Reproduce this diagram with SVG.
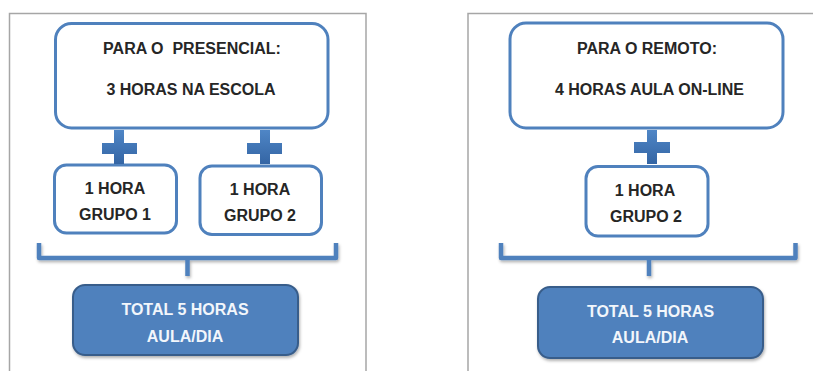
<svg xmlns="http://www.w3.org/2000/svg" width="813" height="371" viewBox="0 0 813 371">
<defs>
<linearGradient id="plusGrad" x1="0" y1="0" x2="0" y2="1">
<stop offset="0" stop-color="#4f86c6"/>
<stop offset="1" stop-color="#3465a4"/>
</linearGradient>
<filter id="shadow" x="-10%" y="-10%" width="120%" height="130%">
<feDropShadow dx="1" dy="2" stdDeviation="1.5" flood-color="#000" flood-opacity="0.3"/>
</filter>
</defs>
<style>
.panel{fill:#fff;stroke:#a6a6a6;stroke-width:1.5}
.box{fill:#fff;stroke:#4f81bd;stroke-width:3}
.total{fill:#4f81bd;stroke:#385d8a;stroke-width:2}
.t{font-family:"Liberation Sans",Arial,sans-serif;font-weight:bold;font-size:16px;fill:#262626;text-anchor:middle;white-space:pre}
.w{fill:#f2f6fb}
.brace{fill:none;stroke:#4f81bd;stroke-width:4.5;stroke-linejoin:round}
.plus{fill:url(#plusGrad)}
</style>
<rect class="panel" x="9.5" y="13.5" width="356.5" height="370"/>
<rect class="panel" x="468" y="13.5" width="360" height="370"/>

<g id="presencial">
<rect class="box" x="55.5" y="23.5" width="272.5" height="104.5" rx="16"/>
<text class="t" x="192" y="54" xml:space="preserve">PARA O  PRESENCIAL:</text>
<text class="t" x="191" y="95">3 HORAS NA ESCOLA</text>
</g>
<g id="grupo1">
<rect class="box" x="54.5" y="165" width="122" height="68" rx="12"/>
<text class="t" x="115" y="194">1 HORA</text>
<text class="t" x="115" y="220">GRUPO 1</text>
</g>
<g id="grupo2-presencial">
<rect class="box" x="200" y="166" width="121.5" height="68.5" rx="12"/>
<text class="t" x="260" y="195">1 HORA</text>
<text class="t" x="260" y="221">GRUPO 2</text>
</g>
<g id="total-presencial">
<rect class="total" x="73" y="285" width="225" height="70" rx="12" filter="url(#shadow)"/>
<text class="t w" x="185" y="315">TOTAL 5 HORAS</text>
<text class="t w" x="185" y="341.5">AULA/DIA</text>
</g>

<g id="remoto">
<rect class="box" x="510" y="23" width="273" height="105" rx="16"/>
<text class="t" x="647" y="53.5">PARA O REMOTO:</text>
<text class="t" x="649.5" y="95">4 HORAS AULA ON-LINE</text>
</g>
<g id="grupo2-remoto">
<rect class="box" x="586" y="166.5" width="122" height="69.5" rx="12"/>
<text class="t" x="645" y="196">1 HORA</text>
<text class="t" x="646" y="221.5">GRUPO 2</text>
</g>
<g id="total-remoto">
<rect class="total" x="538" y="287" width="225" height="71" rx="12" filter="url(#shadow)"/>
<text class="t w" x="650.5" y="316.5">TOTAL 5 HORAS</text>
<text class="t w" x="650" y="343">AULA/DIA</text>
</g>

<g id="connectors">
<path class="plus" d="M114,130 H124 V143 H137 V154 H124 V164 H114 V154 H102 V143 H114 Z"/>
<path class="plus" d="M260,130 H270 V143 H282 V154 H270 V164 H260 V154 H247 V143 H260 Z"/>
<path class="plus" d="M647,130 H657 V142 H670 V153 H657 V164 H647 V153 H634 V142 H647 Z"/>
<g filter="url(#shadow)">
<path class="brace" d="M39,243 V258 H336 V243 M187.5,258 V276"/>
<path class="brace" d="M501,243 V258 H795.5 V243 M649,258 V276"/>
</g>
</g>
</svg>
